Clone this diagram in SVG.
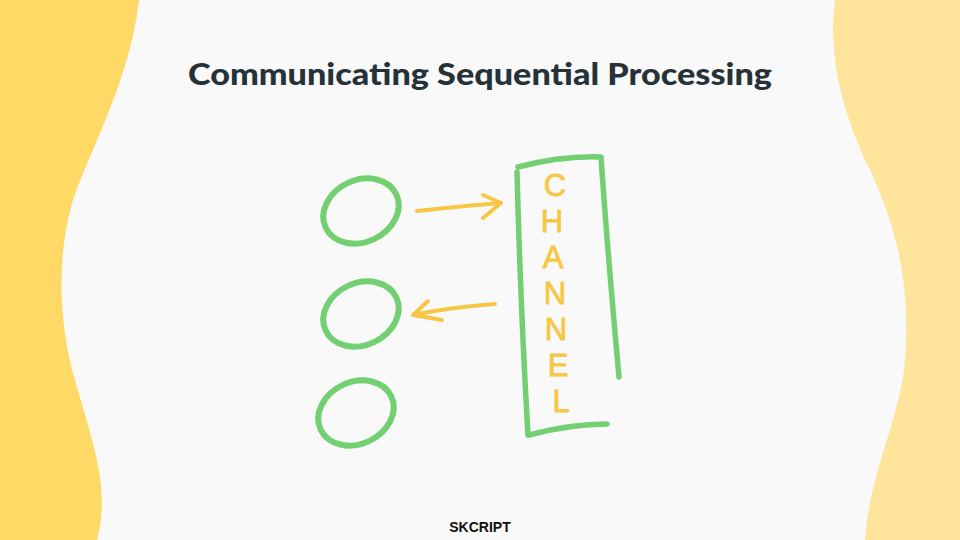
<svg xmlns="http://www.w3.org/2000/svg" width="960" height="540" viewBox="0 0 960 540">
<style>
.title{font-family:"Lato","Open Sans",sans-serif;font-weight:900;font-size:31px;fill:#263238}
.brand{font-family:"Liberation Sans",Arial,sans-serif;font-weight:bold;font-size:14px;fill:#111}
.node{fill:none;stroke:#72CF72;stroke-width:6;stroke-linecap:round}
.box{fill:none;stroke:#72CF72;stroke-width:5.5;stroke-linecap:round;stroke-linejoin:round}
.arrow{fill:none;stroke:#F6C744;stroke-width:4;stroke-linecap:round;stroke-linejoin:round}
.ch{font-family:"Liberation Sans",Arial,sans-serif;font-size:31px;fill:#F6C744;stroke:#F6C744;stroke-width:0.8;stroke-linejoin:round;text-anchor:middle}
</style>
<rect width="960" height="540" fill="#F9F9F9"/>
<path d="M0,0 H139 C130,80 90,150 73,200 C55,260 60,330 75,380 C95,450 110,490 97,540 H0 Z" fill="#FFD966"/>
<path d="M960,0 H835 C828,50 840,110 870,170 C900,235 910,290 905,360 C900,420 870,470 865,540 H960 Z" fill="#FFE59B"/>
<text class="title" x="480" y="85" text-anchor="middle" textLength="584" lengthAdjust="spacingAndGlyphs">Communicating Sequential Processing</text>
<g id="process1"><ellipse class="node" cx="361" cy="211" rx="39" ry="31" transform="rotate(-25 361 211)"/></g>
<g id="process2"><ellipse class="node" cx="361" cy="314" rx="39" ry="31" transform="rotate(-25 361 314)"/></g>
<g id="process3"><ellipse class="node" cx="356" cy="413" rx="39" ry="31" transform="rotate(-25 356 413)"/></g>
<g id="channel">
<path class="box" d="M517,172 C519,250 523,350 528,435"/>
<path class="box" d="M518,167 C545,160 575,156 601,157 C606,230 612,300 619,377"/>
<path class="box" d="M529,435 C555,428 580,424 607,424"/>
<text class="ch" x="555" y="196">C</text>
<text class="ch" x="552" y="232">H</text>
<text class="ch" x="553" y="268">A</text>
<text class="ch" x="555" y="304">N</text>
<text class="ch" x="556" y="340">N</text>
<text class="ch" x="558" y="376">E</text>
<text class="ch" x="561" y="412">L</text>
</g>
<g id="connectors">
<path class="arrow" d="M417,211 C445,208 475,205 501,203"/>
<path class="arrow" d="M483,195 L501,203 L483,218"/>
<path class="arrow" d="M495,304 C470,306 440,309 414,315"/>
<path class="arrow" d="M428,301 L413,315 L442,320"/>
</g>
<text class="brand" x="480" y="532" text-anchor="middle">SKCRIPT</text>
</svg>
